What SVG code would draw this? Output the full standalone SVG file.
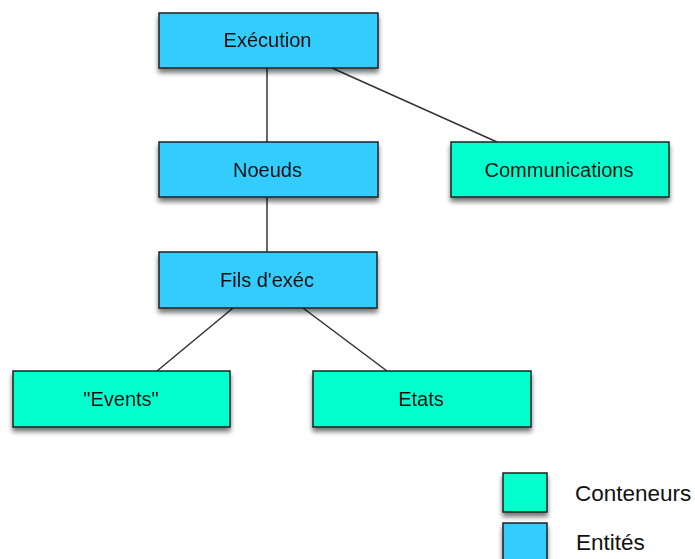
<svg xmlns="http://www.w3.org/2000/svg" width="695" height="559" viewBox="0 0 695 559">
<defs>
<filter id="sh" x="-10%" y="-20%" width="125%" height="160%">
<feGaussianBlur in="SourceAlpha" stdDeviation="2.5"/>
<feOffset dx="0" dy="4" result="b"/>
<feComponentTransfer><feFuncA type="linear" slope="0.55"/></feComponentTransfer>
<feMerge><feMergeNode/><feMergeNode in="SourceGraphic"/></feMerge>
</filter>
<style>
.ent{fill:#33CCFF;stroke:#222;stroke-width:1.5}
.con{fill:#00FFCC;stroke:#222;stroke-width:1.5}
.t{font-family:"Liberation Sans",Arial,sans-serif;font-size:20px;fill:#111;text-anchor:middle}
.lg{font-family:"Liberation Sans",Arial,sans-serif;font-size:22.5px;fill:#111}
.ln{stroke:#333;stroke-width:1.5;fill:none}
</style>
</defs>
<rect width="695" height="559" fill="#fff"/>
<g id="connectors">
<line class="ln" x1="267" y1="68" x2="267" y2="142"/>
<line class="ln" x1="332" y1="68" x2="497" y2="142"/>
<line class="ln" x1="267" y1="197" x2="267" y2="252"/>
<line class="ln" x1="233" y1="308" x2="157" y2="371"/>
<line class="ln" x1="303" y1="308" x2="387" y2="371"/>
</g>
<g id="execution" filter="url(#sh)">
<rect class="ent" x="159" y="13" width="219" height="55"/>
<text class="t" x="267.5" y="47">Exécution</text>
</g>
<g id="noeuds" filter="url(#sh)">
<rect class="ent" x="159" y="142" width="219" height="55"/>
<text class="t" x="267.5" y="177">Noeuds</text>
</g>
<g id="communications" filter="url(#sh)">
<rect class="con" x="451" y="142" width="218" height="55"/>
<text class="t" x="559" y="177">Communications</text>
</g>
<g id="fils" filter="url(#sh)">
<rect class="ent" x="159" y="252" width="218" height="56"/>
<text class="t" x="267" y="287">Fils d'exéc</text>
</g>
<g id="events" filter="url(#sh)">
<rect class="con" x="13" y="371" width="217" height="56"/>
<text class="t" x="121" y="406">"Events"</text>
</g>
<g id="etats" filter="url(#sh)">
<rect class="con" x="313" y="371" width="218" height="56"/>
<text class="t" x="421" y="406">Etats</text>
</g>
<g id="legend-conteneurs">
<rect class="con" x="503" y="473" width="44" height="39" filter="url(#sh)"/>
<text class="lg" x="575" y="500.5">Conteneurs</text>
</g>
<g id="legend-entites">
<rect class="ent" x="503" y="523" width="44" height="44" filter="url(#sh)"/>
<text class="lg" x="576" y="550">Entités</text>
</g>
</svg>
